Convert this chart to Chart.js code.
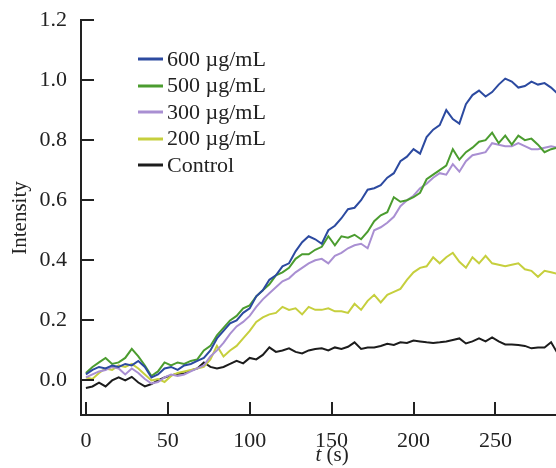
<!DOCTYPE html>
<html>
<head>
<meta charset="utf-8">
<script src="https://cdn.jsdelivr.net/npm/chart.js@4"></script>
<style>
  html, body { margin: 0; padding: 0; background: #fff; }
  #wrap { width: 556px; height: 468px; }
</style>
</head>
<body>
<div id="wrap"><canvas id="intensityChart" width="556" height="468"></canvas></div>
<script>
// time axis (s)
const times = [
  0, 4, 8, 12, 16, 20, 24, 28, 32, 36,
  40, 44, 48, 52, 56, 60, 64, 68, 72, 76,
  80, 84, 88, 92, 96, 100, 104, 108, 112, 116,
  120, 124, 128, 132, 136, 140, 144, 148, 152, 156,
  160, 164, 168, 172, 176, 180, 184, 188, 192, 196,
  200, 204, 208, 212, 216, 220, 224, 228, 232, 236,
  240, 244, 248, 252, 256, 260, 264, 268, 272, 276,
  280, 284, 288
];

const s600 = [
  0.02, 0.035, 0.045, 0.04, 0.05, 0.045, 0.055, 0.05, 0.065, 0.045,
  0.01, 0.02, 0.04, 0.045, 0.035, 0.05, 0.055, 0.065, 0.075, 0.1,
  0.14, 0.165, 0.19, 0.2, 0.225, 0.24, 0.28, 0.3, 0.335, 0.35,
  0.38, 0.39, 0.43, 0.46, 0.48, 0.47, 0.455, 0.5, 0.515, 0.54,
  0.57, 0.575, 0.6, 0.635, 0.64, 0.65, 0.675, 0.69, 0.73, 0.745,
  0.77, 0.755, 0.81, 0.835, 0.85, 0.9, 0.87, 0.855, 0.92, 0.95,
  0.965, 0.945, 0.96, 0.985, 1.005, 0.995, 0.975, 0.98, 0.995, 0.985,
  0.99, 0.975, 0.955
];

const s500 = [
  0.025, 0.045, 0.06, 0.075, 0.055, 0.06, 0.075, 0.105, 0.08, 0.05,
  0.015, 0.03, 0.06, 0.05, 0.06, 0.055, 0.065, 0.07, 0.1, 0.115,
  0.15, 0.175, 0.2, 0.215, 0.24, 0.25, 0.28, 0.3, 0.32, 0.35,
  0.36, 0.375, 0.405, 0.42, 0.42, 0.435, 0.445, 0.48, 0.45, 0.48,
  0.475, 0.485, 0.47, 0.495, 0.53, 0.55, 0.56, 0.61, 0.595, 0.6,
  0.61, 0.625, 0.67, 0.685, 0.7, 0.715, 0.77, 0.735, 0.76, 0.775,
  0.795, 0.8, 0.825, 0.79, 0.815, 0.785, 0.815, 0.8, 0.805, 0.785,
  0.76, 0.77, 0.775
];

const s300 = [
  0.01, 0.02, 0.03, 0.035, 0.045, 0.04, 0.02, 0.04, 0.025, 0.005,
  -0.01, -0.005, 0.01, 0.02, 0.015, 0.02, 0.03, 0.04, 0.05, 0.08,
  0.1, 0.125, 0.155, 0.18, 0.195, 0.215, 0.245, 0.27, 0.29, 0.31,
  0.33, 0.34, 0.36, 0.375, 0.39, 0.4, 0.405, 0.39, 0.415, 0.425,
  0.44, 0.45, 0.455, 0.44, 0.5, 0.51, 0.525, 0.545, 0.58, 0.6,
  0.615, 0.64, 0.655, 0.675, 0.69, 0.685, 0.72, 0.695, 0.73, 0.75,
  0.755, 0.76, 0.79, 0.785, 0.78, 0.78, 0.79, 0.78, 0.77, 0.77,
  0.775, 0.78, 0.775
];

const s200 = [
  0.01, 0.005, 0.025, 0.04, 0.035, 0.05, 0.045, 0.055, 0.04, 0.02,
  0.0, 0.005, -0.005, 0.015, 0.025, 0.03, 0.035, 0.04, 0.045, 0.07,
  0.115, 0.08, 0.1, 0.115, 0.14, 0.165, 0.195, 0.21, 0.22, 0.225,
  0.245, 0.235, 0.24, 0.22, 0.245, 0.235, 0.235, 0.24, 0.23, 0.23,
  0.225, 0.255, 0.235, 0.265, 0.285, 0.26, 0.285, 0.295, 0.305, 0.335,
  0.36, 0.375, 0.38, 0.41, 0.39, 0.41, 0.425, 0.395, 0.375, 0.41,
  0.39, 0.415, 0.39, 0.385, 0.38, 0.385, 0.39, 0.37, 0.365, 0.345,
  0.365, 0.36, 0.355
];

const sControl = [
  -0.025, -0.02, -0.007, -0.02, 0.0, 0.01, 0.0, 0.012, -0.007, -0.02,
  -0.012, 0.0, 0.01, 0.017, 0.022, 0.023, 0.033, 0.04, 0.06, 0.045,
  0.04, 0.045, 0.055, 0.065, 0.057, 0.075, 0.07, 0.085, 0.11, 0.095,
  0.1, 0.107, 0.095, 0.09, 0.1, 0.105, 0.107, 0.1, 0.11, 0.105,
  0.112, 0.127, 0.105, 0.11, 0.11, 0.115, 0.122, 0.118, 0.127, 0.125,
  0.133, 0.13, 0.127, 0.125, 0.127, 0.13, 0.135, 0.14, 0.123, 0.13,
  0.14, 0.13, 0.143, 0.13, 0.12, 0.12, 0.118, 0.115, 0.107, 0.11,
  0.11, 0.127, 0.09
];

const seriesLabels = ['600 µg/mL', '500 µg/mL', '300 µg/mL', '200 µg/mL', 'Control'];
const seriesData = [s600, s500, s300, s200, sControl];
const seriesColors = ['#2c4aa0', '#4b9c2f', '#a98fd2', '#c6cf3d', '#1c1c1c'];

const xTicks = [0, 50, 100, 150, 200, 250];
const yTicks = [0.0, 0.2, 0.4, 0.6, 0.8, 1.0, 1.2];

const serif = "'Liberation Serif', 'Times New Roman', serif";
const axisColor = '#222';

// inward tick marks, axis titles and the in-plot legend
const decorPlugin = {
  id: 'decor',
  afterDraw(chart) {
    const ctx = chart.ctx;
    const area = chart.chartArea;
    const xs = chart.scales.x;
    const ys = chart.scales.y;
    ctx.save();
    ctx.fillStyle = axisColor;
    xTicks.forEach(v => {
      const px = Math.round(xs.getPixelForValue(v));
      ctx.fillRect(px - 1, area.bottom - 13, 2, 13);
    });
    yTicks.forEach(v => {
      const py = Math.round(ys.getPixelForValue(v));
      ctx.fillRect(area.left, py - 1, 13, 2);
    });

    // axis titles
    ctx.fillStyle = axisColor;
    ctx.textBaseline = 'middle';
    ctx.font = '21px ' + serif;
    ctx.save();
    ctx.translate(20, 218);
    ctx.rotate(-Math.PI / 2);
    ctx.textAlign = 'center';
    ctx.fillText('Intensity', 0, 0);
    ctx.restore();

    ctx.textAlign = 'left';
    ctx.font = 'italic 21px ' + serif;
    const tW = ctx.measureText('t').width;
    ctx.font = '21px ' + serif;
    const restW = ctx.measureText(' (s)').width;
    const startX = 332 - (tW + restW) / 2;
    ctx.font = 'italic 21px ' + serif;
    ctx.fillText('t', startX, 455);
    ctx.font = '21px ' + serif;
    ctx.fillText(' (s)', startX + tW, 455);

    // legend
    ctx.font = '22px ' + serif;
    seriesLabels.forEach((label, i) => {
      const y = 59 + i * 26.5;
      ctx.fillStyle = seriesColors[i];
      ctx.fillRect(138, Math.round(y) - 1.5, 25, 3);
      ctx.fillStyle = axisColor;
      ctx.fillText(label, 167, y + 1);
    });
    ctx.restore();
  }
};

const ctxIntensity = document.getElementById('intensityChart');
new Chart(ctxIntensity, {
  type: 'line',
  data: {
    datasets: seriesLabels.map((label, i) => ({
      label: label,
      data: times.map((t, j) => ({ x: t, y: seriesData[i][j] })),
      borderColor: seriesColors[i],
      borderWidth: 2,
      pointRadius: 0,
      tension: 0,
      fill: false
    }))
  },
  options: {
    responsive: false,
    animation: false,
    layout: { padding: { top: 20, right: 0, left: 0, bottom: 0 } },
    plugins: {
      legend: { display: false },
      tooltip: { enabled: false }
    },
    scales: {
      x: {
        type: 'linear',
        min: -3,
        max: 287,
        grid: { display: false },
        border: { display: true, color: axisColor, width: 2 },
        afterBuildTicks: (scale) => {
          scale.ticks = xTicks.map(v => ({ value: v }));
        },
        afterFit: (scale) => { scale.height = 53; },
        ticks: {
          color: axisColor,
          padding: 5,
          font: { family: serif, size: 22 },
          maxRotation: 0,
          callback: (v) => String(v)
        }
      },
      y: {
        min: -0.115,
        max: 1.2,
        grid: { display: false },
        border: { display: true, color: axisColor, width: 2 },
        afterBuildTicks: (scale) => {
          scale.ticks = yTicks.map(v => ({ value: v }));
        },
        afterFit: (scale) => { scale.width = 81; },
        ticks: {
          color: axisColor,
          padding: 6,
          font: { family: serif, size: 22 },
          callback: (v) => Number(v).toFixed(1)
        }
      }
    }
  },
  plugins: [decorPlugin]
});
</script>
</body>
</html>
